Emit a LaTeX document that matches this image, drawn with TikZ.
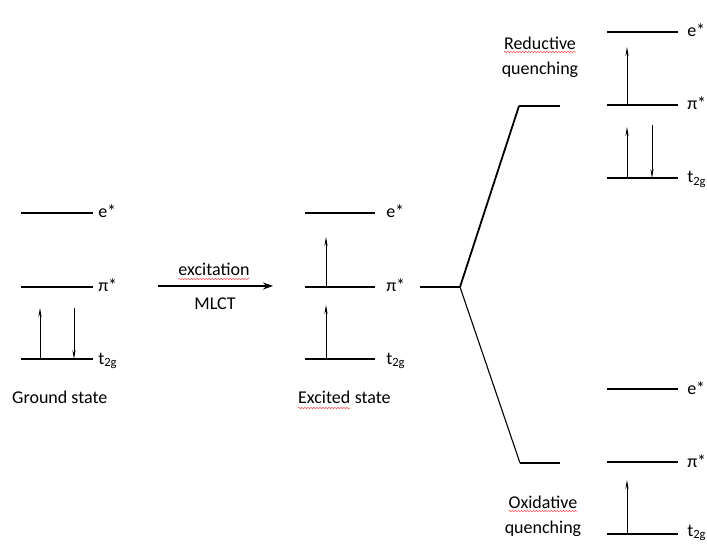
\documentclass[tikz,border=0pt]{standalone}
\usepackage{fontspec}
\setmainfont{Carlito}
\usetikzlibrary{arrows.meta,positioning,decorations.pathmorphing}
\tikzstyle{level} = [line width=2.5pt]
\tikzstyle{elec} = [line width=0.7pt, -{Stealth[length=9pt,width=3.2pt]}]
\tikzstyle{lbl} = [anchor=base west, inner sep=0pt, yshift=-5pt]
\tikzstyle{txt} = [anchor=base, inner sep=0pt]
\tikzstyle{spell} = [red!75, line width=0.5pt, decorate, decoration={snake, amplitude=0.6pt, segment length=3pt}]

\begin{document}
\begin{tikzpicture}[x=1pt, y=-1pt, font=\fontsize{18}{25}\selectfont]
	\useasboundingbox (0,0) rectangle (707,545);

	% ground state
	\coordinate (g-e) at (21,213);
	\coordinate (g-p) at (21,287);
	\coordinate (g-t) at (21,359);
	\draw[level] (g-e) -- ++(72,0) node[lbl, xshift=4pt] (g-el) {e*};
	\draw[level] (g-p) -- ++(72,0) node[lbl, xshift=4pt] (g-pl) {π*};
	\draw[level] (g-t) -- ++(72,0) node[lbl, xshift=4pt] (g-tl) {t\textsubscript{2g}};
	\draw[elec] ([xshift=19pt]g-t) -- ([xshift=19pt, yshift=-21pt]g-p);
	\draw[elec] ([xshift=53pt, yshift=-21pt]g-p) -- ([xshift=53pt]g-t);
	\node[txt, anchor=base west] (gs) at (12,403) {Ground state};

	% excitation
	\coordinate (x-a) at (158,286);
	\coordinate (x-b) at (273,286);
	\draw[line width=2pt, -{Stealth[length=10pt,width=7pt]}] (x-a) -- (x-b);
	\node[txt] (xc) at (214,276) {excitation};
	\node[txt] (ml) at (215,310) {MLCT};
	\draw[spell] ([yshift=-3pt]xc.base west) -- ([yshift=-3pt]xc.base east);

	% excited state
	\coordinate (s-e) at (305,213);
	\coordinate (s-p) at (305,287);
	\coordinate (s-t) at (305,359);
	\draw[level] (s-e) -- ++(70,0) node[lbl, xshift=10pt] (s-el) {e*};
	\draw[level] (s-p) -- ++(70,0) node[lbl, xshift=10pt] (s-pl) {π*};
	\draw[level] (s-t) -- ++(70,0) node[lbl, xshift=10pt] (s-tl) {t\textsubscript{2g}};
	\draw[elec] ([xshift=21pt]s-p) -- ([xshift=21pt, yshift=-24pt]s-e);
	\draw[elec] ([xshift=21pt]s-t) -- ([xshift=21pt, yshift=-18pt]s-p);
	\node[txt, anchor=base west] (es1) at (298,403) {Excited};
	\node[txt, anchor=base west] (es2) at ([xshift=4pt]es1.base east) {state};
	\draw[spell] ([yshift=-5pt]es1.base west) -- ([yshift=-5pt]es1.base east);

	% branching
	\coordinate (b-0) at (420,287);
	\coordinate (b-1) at (460,287);
	\coordinate (b-u) at (519,106);
	\coordinate (b-ue) at (560,106);
	\coordinate (b-d) at (520,463);
	\coordinate (b-de) at (560,463);
	\draw[level] (b-0) -- (b-1);
	\draw[line width=1.8pt] (b-1) -- (b-u);
	\draw[level] (b-u) -- (b-ue);
	\draw[line width=1.1pt] (b-1) -- (b-d);
	\draw[level] (b-d) -- (b-de);

	% reductive quenching
	\coordinate (r-e) at (607,32);
	\coordinate (r-p) at (607,105);
	\coordinate (r-t) at (607,178);
	\draw[level] (r-e) -- ++(71,0) node[lbl, xshift=8pt] (r-el) {e*};
	\draw[level] (r-p) -- ++(71,0) node[lbl, xshift=8pt] (r-pl) {π*};
	\draw[level] (r-t) -- ++(71,0) node[lbl, xshift=8pt] (r-tl) {t\textsubscript{2g}};
	\draw[elec] ([xshift=20pt]r-p) -- ([xshift=20pt, yshift=-15pt]r-e);
	\draw[elec] ([xshift=20pt]r-t) -- ([xshift=20pt, yshift=-22pt]r-p);
	\draw[elec] ([xshift=45pt, yshift=-20pt]r-p) -- ([xshift=45pt]r-t);
	\node[txt] (rd) at (540,50) {Reductive};
	\node[txt] (rq) at ([yshift=-25pt]rd.base) {quenching};
	\draw[spell] ([yshift=-2pt]rd.base west) -- ([yshift=-2pt]rd.base east);

	% oxidative quenching
	\coordinate (o-e) at (607,389);
	\coordinate (o-p) at (607,462);
	\coordinate (o-t) at (607,534);
	\draw[level] (o-e) -- ++(71,0) node[lbl, xshift=8pt] (o-el) {e*};
	\draw[level] (o-p) -- ++(71,0) node[lbl, xshift=8pt] (o-pl) {π*};
	\draw[level] (o-t) -- ++(71,0) node[lbl, xshift=8pt, yshift=3pt] (o-tl) {t\textsubscript{2g}};
	\draw[elec] ([xshift=20pt]o-t) -- ([xshift=20pt, yshift=-18pt]o-p);
	\node[txt] (od) at (543,508) {Oxidative};
	\node[txt] (oq) at ([yshift=-25pt]od.base) {quenching};
	\draw[spell] ([yshift=-3pt]od.base west) -- ([yshift=-3pt]od.base east);
\end{tikzpicture}
\end{document}
